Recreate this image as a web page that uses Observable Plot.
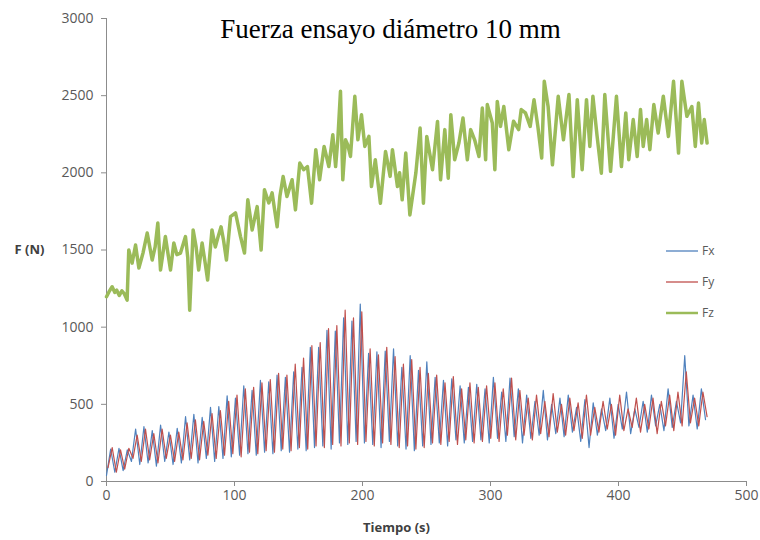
<!DOCTYPE html>
<html>
<head>
<meta charset="utf-8">
<script src="https://cdn.jsdelivr.net/npm/d3@7"></script>
<script src="https://cdn.jsdelivr.net/npm/@observablehq/plot@0.6"></script>
<style>
  html, body { margin: 0; padding: 0; background: #fff; }
  #wrap { position: relative; width: 760px; height: 540px; }
  #legend { position: absolute; left: 666px; top: 235px; font-family: "Open Sans", sans-serif; font-size: 12px; color: #595959; }
  .item { display: flex; align-items: center; height: 31px; }
  .item svg { margin-right: 4px; }
</style>
</head>
<body>
<div id="wrap"></div>
<script>
// ---- data ----
const titulo = "Fuerza ensayo diámetro 10 mm";
const etiquetaX = "Tiempo (s)";
const etiquetaY = "F (N)";
const xTicks = [0, 100, 200, 300, 400, 500];
const yTicks = [0, 500, 1000, 1500, 2000, 2500, 3000];
const series = ["Fx", "Fy", "Fz"];
const colores = ["#4f81bd", "#c0504d", "#9bbb59"];

// Fx and Fy sampled every 3.25 s (Fy trails Fx by 1.2 s)
const paso = 3.25;
const desfaseFy = 1.2;
const fx = [
  40, 210, 60, 215, 70, 205, 130, 340, 110, 355,
  120, 330, 100, 365, 130, 320, 110, 345, 120, 420,
  140, 435, 120, 415, 150, 480, 130, 485, 150, 555,
  160, 540, 170, 620, 180, 590, 170, 655, 190, 645,
  180, 690, 200, 675, 190, 710, 210, 740, 200, 870,
  220, 870, 230, 980, 210, 975, 250, 1060, 240, 1040,
  260, 1150, 250, 830, 240, 840, 220, 845, 260, 860,
  230, 740, 210, 815, 200, 720, 230, 775, 240, 675,
  250, 655, 230, 665, 270, 620, 250, 610, 260, 630,
  270, 600, 250, 675, 280, 580, 260, 670, 290, 600,
  250, 560, 280, 520, 300, 590, 270, 500, 310, 540,
  290, 560, 320, 480, 260, 530, 220, 510, 300, 470,
  330, 540, 280, 500, 340, 580, 310, 470, 350, 520,
  320, 560, 360, 500, 330, 600, 350, 520, 380, 815,
  360, 560, 340, 600, 400
];
const fy = [
  90, 220, 60, 205, 80, 215, 150, 300, 130, 340,
  140, 310, 120, 340, 150, 300, 130, 320, 140, 380,
  150, 400, 140, 390, 170, 440, 150, 460, 170, 520,
  180, 560, 160, 600, 190, 610, 180, 640, 200, 660,
  190, 700, 210, 690, 200, 760, 220, 800, 210, 880,
  230, 900, 220, 990, 240, 1010, 230, 1110, 250, 1060,
  240, 1100, 260, 860, 230, 820, 250, 870, 240, 810,
  220, 760, 230, 790, 210, 740, 220, 700, 250, 690,
  240, 640, 260, 680, 240, 600, 270, 640, 250, 610,
  260, 620, 280, 640, 260, 600, 300, 670, 270, 590,
  300, 540, 270, 560, 310, 520, 290, 570, 320, 500,
  300, 540, 330, 510, 280, 560, 300, 480, 320, 520,
  340, 500, 300, 560, 330, 470, 350, 540, 320, 500,
  340, 540, 310, 520, 360, 560, 330, 580, 360, 710,
  380, 540, 360, 580, 420
];

// Fz: (time, force) pairs
const tiempoFz = [
  0, 2, 4.4, 6.5, 8, 10, 12, 14, 16.1, 17.4,
  20, 22.7, 25.3, 28.5, 31.8, 35.7, 38, 40.1, 42.2, 46,
  50, 52.6, 55, 57.8, 61.7, 63.5, 65, 67.7, 70, 72,
  74.7, 77, 79, 82.4, 85, 87, 89.5, 91.5, 93.7, 96.9,
  100.8, 104.7, 107.8, 110.4, 113.8, 117.7, 120.8, 123.4, 126.8, 129.4,
  133.3, 135.5, 138, 141, 145, 147.6, 151, 154, 157, 160.2,
  163.5, 166.5, 170, 173.7, 176.8, 179, 180.7, 182.8, 184.6, 186.7,
  188.5, 190.6, 194, 196.4, 199.2, 201.8, 205, 207, 210, 214,
  218, 221.6, 223.4, 227.3, 229, 231, 233.8, 237, 241.7, 245,
  247.6, 250.2, 254.7, 258.6, 261, 264.3, 267, 269, 272, 275.3,
  278.5, 281.9, 284.5, 287.6, 291, 293.6, 296.2, 297.5, 301.4, 303.4,
  305.3, 307.8, 310.4, 314.3, 318, 322, 324, 327.3, 331, 334,
  337, 340, 342, 345, 348.4, 352.9, 357, 361.3, 364.6, 367.8,
  371.6, 375, 377.6, 380, 383.3, 386.6, 389.3, 393.8, 398.4, 402.3,
  405.7, 408, 411.5, 414.6, 417.2, 419.3, 422, 424.5, 427.6, 431,
  435, 439, 443, 446.9, 449.5, 453.4, 457.3, 460, 462.5, 465,
  467, 469.2
];
const fz = [
  1197, 1230, 1262, 1225, 1240, 1205, 1235, 1215, 1175, 1500,
  1415, 1532, 1383, 1480, 1610, 1435, 1520, 1675, 1370, 1587,
  1370, 1545, 1470, 1480, 1587, 1450, 1110, 1630, 1520, 1370,
  1545, 1420, 1305, 1630, 1520, 1580, 1650, 1560, 1435, 1716,
  1740, 1587, 1480, 1825, 1630, 1781, 1500, 1890, 1805, 1870,
  1650, 1850, 1976, 1846, 1955, 1760, 2063, 2020, 2040, 1803,
  2150, 1955, 2171, 2041, 2247, 2041, 2214, 2528, 1955, 2214,
  2180, 2106, 2496, 2214, 2377, 2171, 2236, 1911, 2085, 1803,
  2138, 1977, 2150, 1911, 2000, 1825, 2128, 1727, 2000, 2290,
  1803, 2236, 2020, 2333, 1955, 2280, 1965, 2377, 2085, 2193,
  2355, 2085, 2280, 2214, 2106, 2420, 2085, 2442, 2323, 2020,
  2463, 2301, 2430, 2150, 2334, 2280, 2410, 2388, 2301, 2474,
  2301, 2096, 2593, 2430, 2052, 2496, 2214, 2507, 1976, 2474,
  2020, 2474, 2171, 2496, 2236, 1998, 2507, 2010, 2496, 2041,
  2388, 2085, 2345, 2106, 2410, 2171, 2345, 2150, 2442, 2258,
  2496, 2236, 2593, 2128, 2593, 2366, 2430, 2171, 2452, 2193,
  2345, 2193
];

// ---- build tables ----
const datosFx = fx.map((v, i) => ({t: i * paso, v}));
const datosFy = fy.map((v, i) => ({t: i * paso + desfaseFy, v}));
const datosFz = fz.map((v, i) => ({t: tiempoFz[i], v}));

const gris = "#8c8c8c";
const fuente = "'Open Sans', sans-serif";
const fmt = d3.format("d");

const chart = Plot.plot({
  width: 760,
  height: 540,
  marginLeft: 106,
  marginRight: 14,
  marginTop: 18,
  marginBottom: 59,
  x: {domain: [0, 500]},
  y: {domain: [0, 3000]},
  style: {fontFamily: fuente, fontSize: "14px", color: "#595959", background: "#fff"},
  marks: [
    Plot.axisX({ticks: xTicks, tickFormat: fmt, tickSize: 5, tickPadding: 4, stroke: gris, label: null, fill: "#595959"}),
    Plot.axisY({ticks: yTicks, tickFormat: fmt, tickSize: 5, tickPadding: 8, stroke: gris, label: null, fill: "#595959"}),
    Plot.ruleX([0], {stroke: gris}),
    Plot.ruleY([0], {stroke: gris}),
    Plot.line(datosFx, {x: "t", y: "v", stroke: colores[0], strokeWidth: 1.2}),
    Plot.line(datosFy, {x: "t", y: "v", stroke: colores[1], strokeWidth: 1.2}),
    Plot.line(datosFz, {x: "t", y: "v", stroke: colores[2], strokeWidth: 3.5, strokeLinejoin: "round"}),
    Plot.text([titulo], {frameAnchor: "top", dx: -36, dy: 0, fontFamily: "'Liberation Serif', 'Times New Roman', serif", fontSize: 27, fill: "#000"}),
    Plot.text([etiquetaY], {frameAnchor: "left", textAnchor: "start", dx: -92, fontWeight: "bold", fontSize: 13, fill: "#404040"}),
    Plot.text([etiquetaX], {frameAnchor: "bottom", dx: -30, dy: 50, fontWeight: "bold", fontSize: 13, fill: "#404040"})
  ]
});

const wrap = document.getElementById("wrap");
wrap.appendChild(chart);

// legend
const legend = d3.select(wrap).append("div").attr("id", "legend");
series.forEach((s, i) => {
  const it = legend.append("div").attr("class", "item");
  const sv = it.append("svg").attr("width", 32).attr("height", 6);
  sv.append("line").attr("x1", 0).attr("x2", 32).attr("y1", 3).attr("y2", 3)
    .attr("stroke", colores[i]).attr("stroke-width", i === 2 ? 2.5 : 1.3);
  it.append("span").text(s);
});
</script>
</body>
</html>
